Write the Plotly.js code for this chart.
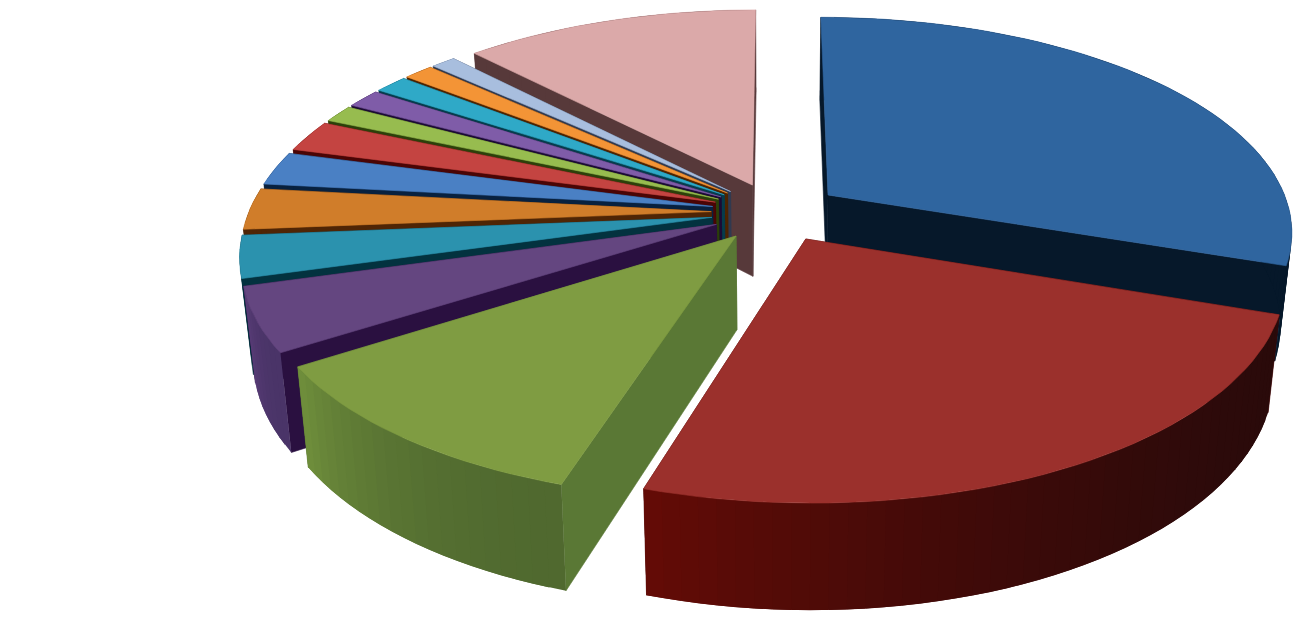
<!DOCTYPE html>
<html>
<head>
<meta charset="utf-8">
<script src="https://cdn.plot.ly/plotly-3.0.1.min.js"></script>
<style>html,body{margin:0;padding:0;background:#fff;overflow:hidden}#chart{width:1312px;height:626px}</style>
</head>
<body>
<div id="chart"></div>
<script>
// Data: slice shares (percent, clockwise from 12 o'clock)
var categories = ['S1','S2','S3','S4','S5','S6','S7','S8','S9','S10','S11','S12','S13','S14'];
var shares = [30.2, 24.5, 11.0, 4.7, 3.1, 3.05, 2.5, 2.35, 1.3, 1.4, 1.35, 1.2, 1.0, 12.1];

// Styles
var topColors  = ['#2f659f','#9b302c','#7f9c42','#644680','#2b92ae','#d07d2a','#4a80c4','#c44441','#97bc4f','#7f5ca8','#2fa9c7','#f39436','#a8bede','#dba9a9'];
var sideColors = ['#06182a','#4a0505','#5a7835','#2a1040','#03323f','#4f2505','#08213f','#4a0505','#2c400a','#1c0b35','#063c4c','#4d2400','#303a50','#57393a'];
var arcStart   = ['#06182a','#2a0a0a','#50692f','#4a3468','#03323f','#4f2505','#08213f','#4a0505','#2c400a','#1c0b35','#063c4c','#4d2400','#303a50','#57393a'];
var arcEnd     = ['#06182a','#640b06','#6f8f3c','#5a3d78','#03323f','#4f2505','#08213f','#4a0505','#2c400a','#1c0b35','#063c4c','#4d2400','#303a50','#57393a'];
var drawOrder  = [13,0,12,11,10,9,8,7,6,5,4,3,2,1];

// Projection of the pie's ground plane to the axes' coordinates
var CX = 776, CY = 212, RX = 462.5, RY = 211.6, PERSP = 0.162, EXPLODE = 0.14;
var NADIR_X = 775, SHRINK = 0.022, DEPTH0 = 82, DEPTH1 = 0.05;

function project(X, Y) {
  var w = 1 - PERSP * Y;
  return [CX + RX * X / w, CY + RY * Y / w];
}
function lower(p) {
  return [p[0] - (p[0] - NADIR_X) * SHRINK, p[1] + DEPTH0 + DEPTH1 * p[1]];
}
function hex2rgb(h) { return [1,3,5].map(function (i) { return parseInt(h.substr(i,2),16); }); }
function mix(a, b, t) {
  var A = hex2rgb(a), B = hex2rgb(b);
  return 'rgb(' + A.map(function (v,i) { return Math.round(v + (B[i]-v)*t); }).join(',') + ')';
}
function poly(pts, color, name, lineWidth) {
  return {
    type: 'scatter', mode: 'lines', fill: 'toself', fillcolor: color,
    x: pts.map(function (p) { return p[0]; }).concat([pts[0][0]]),
    y: pts.map(function (p) { return p[1]; }).concat([pts[0][1]]),
    line: {color: color, width: lineWidth}, name: name, hoverinfo: 'name', showlegend: false
  };
}

var total = shares.reduce(function (a,b) { return a+b; }, 0);
var slices = [], acc = 0;
shares.forEach(function (v, i) {
  var a0 = acc / total * 2 * Math.PI;
  acc += v;
  var a1 = acc / total * 2 * Math.PI;
  slices.push({i: i, a0: a0, a1: a1});
});

var traces = [];
drawOrder.forEach(function (idx) {
  var s = slices[idx], name = categories[idx];
  var mid = (s.a0 + s.a1) / 2;
  var sx = EXPLODE * Math.sin(mid), sy = -EXPLODE * Math.cos(mid);
  var apex = project(sx, sy);
  var n = Math.max(6, Math.round((s.a1 - s.a0) * 30));
  var arc = [];
  for (var k = 0; k <= n; k++) {
    var a = s.a0 + (s.a1 - s.a0) * k / n;
    arc.push(project(sx + Math.sin(a), sy - Math.cos(a)));
  }
  // Hidden end wall, then the visible start wall
  traces.push(poly([apex, arc[n], lower(arc[n]), lower(apex)], sideColors[idx], name, 0.6));
  traces.push(poly([apex, arc[0], lower(arc[0]), lower(apex)], sideColors[idx], name, 0.6));
  // Outer rim, in shaded strips; each strip runs under the next so no seam shows
  for (var j = 0; j < n; j++) {
    var t = (j + 0.5) / n;
    var c = mix(arcStart[idx], arcEnd[idx], t * t);
    var e = Math.min(j + 2, n);
    var strip = arc.slice(j, e + 1);
    var low = strip.map(lower).reverse();
    traces.push(poly(strip.concat(low), c, name, 0));
  }
  // Top face
  traces.push(poly([apex].concat(arc), topColors[idx], name, 0.6));
});

Plotly.newPlot('chart', traces, {
  width: 1312, height: 626,
  margin: {l: 0, r: 0, t: 0, b: 0},
  paper_bgcolor: '#ffffff', plot_bgcolor: '#ffffff',
  showlegend: false,
  xaxis: {range: [0, 1312], visible: false, fixedrange: true},
  yaxis: {range: [626, 0], visible: false, fixedrange: true}
}, {displayModeBar: false, staticPlot: true});
</script>
</body>
</html>
